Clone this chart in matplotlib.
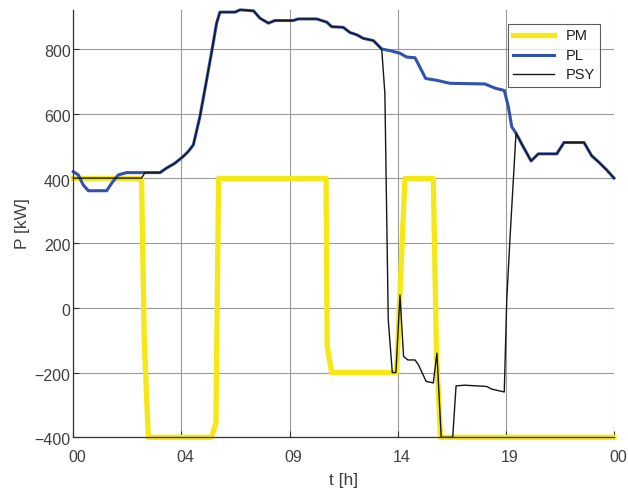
import matplotlib.pyplot as plt
import matplotlib.transforms as mtransforms
import numpy as np

plt.rcParams['font.family'] = ['Liberation Sans', 'DejaVu Sans']

# PM (yellow)
pm_t = [0, 3.03, 3.15, 3.33, 6.14, 6.33, 6.45, 11.22, 11.27, 11.47, 14.35, 14.72, 15.98, 16.12, 16.3, 24]
pm_p = [400, 400, -100, -400, -400, -356, 400, 400, -120, -200, -200, 400, 400, -140, -400, -400]

# PL (blue)
pl_t = [0, 0.22, 0.44, 0.67, 1.48, 1.70, 2.0, 2.37, 3.1, 3.85, 4.14, 4.51, 4.88, 5.1, 5.33,
        5.62, 5.92, 6.21, 6.36, 6.51, 7.18, 7.4, 8.0, 8.29, 8.66, 8.95, 9.76, 9.99, 10.8,
        11.25, 11.47, 11.98, 12.28, 12.58, 12.87, 13.32, 13.69, 14.06, 14.5, 14.8, 15.17,
        15.64, 16.15, 16.72, 18.27, 18.72, 19.13, 19.31, 19.46, 19.65, 19.97, 20.32, 20.64,
        21.46, 21.78, 22.67, 23.01, 23.3, 23.68, 24]
pl_p = [421, 411, 380, 362, 362, 385, 411, 418, 418, 418, 432, 447, 468, 483, 504,
        591, 705, 818, 880, 914, 914, 921, 918, 895, 880, 888, 888, 893, 893,
        883, 869, 867, 851, 844, 833, 826, 800, 795, 787, 775, 773,
        709, 703, 694, 692, 679, 672, 622, 560, 540, 498, 454, 476,
        476, 511, 511, 470, 452, 426, 401]

# PSY (black)
psy_t = [0, 3.03, 3.18, 3.85, 4.14, 4.51, 4.88, 5.1, 5.33,
         5.62, 5.92, 6.21, 6.36, 6.51, 7.18, 7.4, 8.0, 8.29, 8.66, 8.95, 9.76, 9.99, 10.8,
         11.25, 11.47, 11.98, 12.28, 12.58, 12.87, 13.32, 13.69, 13.83, 13.98, 14.16, 14.32,
         14.5, 14.66, 14.85, 15.17, 15.32, 15.66, 15.98, 16.14, 16.33, 16.84, 16.99, 17.39,
         18.35, 18.57, 19.13, 19.24, 19.38, 19.65, 19.97, 20.32, 20.64,
         21.46, 21.78, 22.67, 23.01, 23.3, 23.68, 24]
psy_p = [401, 401, 418, 418, 432, 447, 468, 483, 504,
         591, 705, 818, 880, 914, 914, 921, 918, 895, 880, 888, 888, 893, 893,
         883, 869, 867, 851, 844, 833, 826, 800, 663, -37, -200, -200,
         40, -150, -161, -161, -176, -227, -232, -140, -400, -400, -241, -239,
         -243, -251, -260, 25, 210, 540, 498, 454, 476,
         476, 511, 511, 470, 452, 426, 401]

xticks = [0, 4.8, 9.6, 14.4, 19.2, 24]
xticklabels = ['00', '04', '09', '14', '19', '00']
yticks = [-400, -200, 0, 200, 400, 600, 800]

fig = plt.figure(figsize=(6.28, 4.93), dpi=100)
ax = fig.add_axes([0.1167, 0.113, 0.861, 0.867])

ax.plot(pm_t, pm_p, color=(0.96, 0.91, 0.08), lw=3.8, label='PM', clip_on=False)
ax.plot(pl_t, pl_p, color=(0.20, 0.32, 0.68), lw=2.2, label='PL', clip_on=False)
ax.plot(psy_t, psy_p, color=(0.08, 0.08, 0.1), lw=1.0, label='PSY', clip_on=False)

ax.set_xlim(0, 24)
ax.set_ylim(-400, 921)
ax.set_xticks(xticks)
ax.set_xticklabels(xticklabels)
ax.set_yticks(yticks)
ax.grid(True, color='#9a9a9a', lw=0.8)
ax.set_axisbelow(True)

for s in ['top', 'right']:
    ax.spines[s].set_visible(False)
for s in ['left', 'bottom']:
    ax.spines[s].set_color('#333333')
    ax.spines[s].set_linewidth(0.9)
ax.tick_params(direction='in', length=4, colors='#333333', labelsize=11.5, labelcolor='#404040')
ax.tick_params(axis='x', pad=9)
ax.tick_params(axis='y', pad=2)

# small shift of tick labels as in the reference
dx = mtransforms.ScaledTranslation(3 / 72, 0, fig.dpi_scale_trans)
for lab in ax.get_xticklabels():
    lab.set_transform(lab.get_transform() + dx)
dy = mtransforms.ScaledTranslation(0, -1.5 / 72, fig.dpi_scale_trans)
for lab in ax.get_yticklabels():
    lab.set_transform(lab.get_transform() + dy)

ax.set_xlabel('t [h]', fontsize=12.5, color='#404040', labelpad=6)
ax.set_ylabel('P [kW]', fontsize=12.5, color='#404040', labelpad=3)

leg = ax.legend(loc='upper right', bbox_to_anchor=(0.974, 0.967), borderaxespad=0,
                fontsize=10.5, handlelength=2.8,
                frameon=True, fancybox=False, borderpad=0.35, labelspacing=0.38, handletextpad=0.8)
leg.get_frame().set_edgecolor('#333333')
leg.get_frame().set_linewidth(0.8)
for t in leg.get_texts():
    t.set_color('#202020')

fig.savefig('out.png', dpi=100)
